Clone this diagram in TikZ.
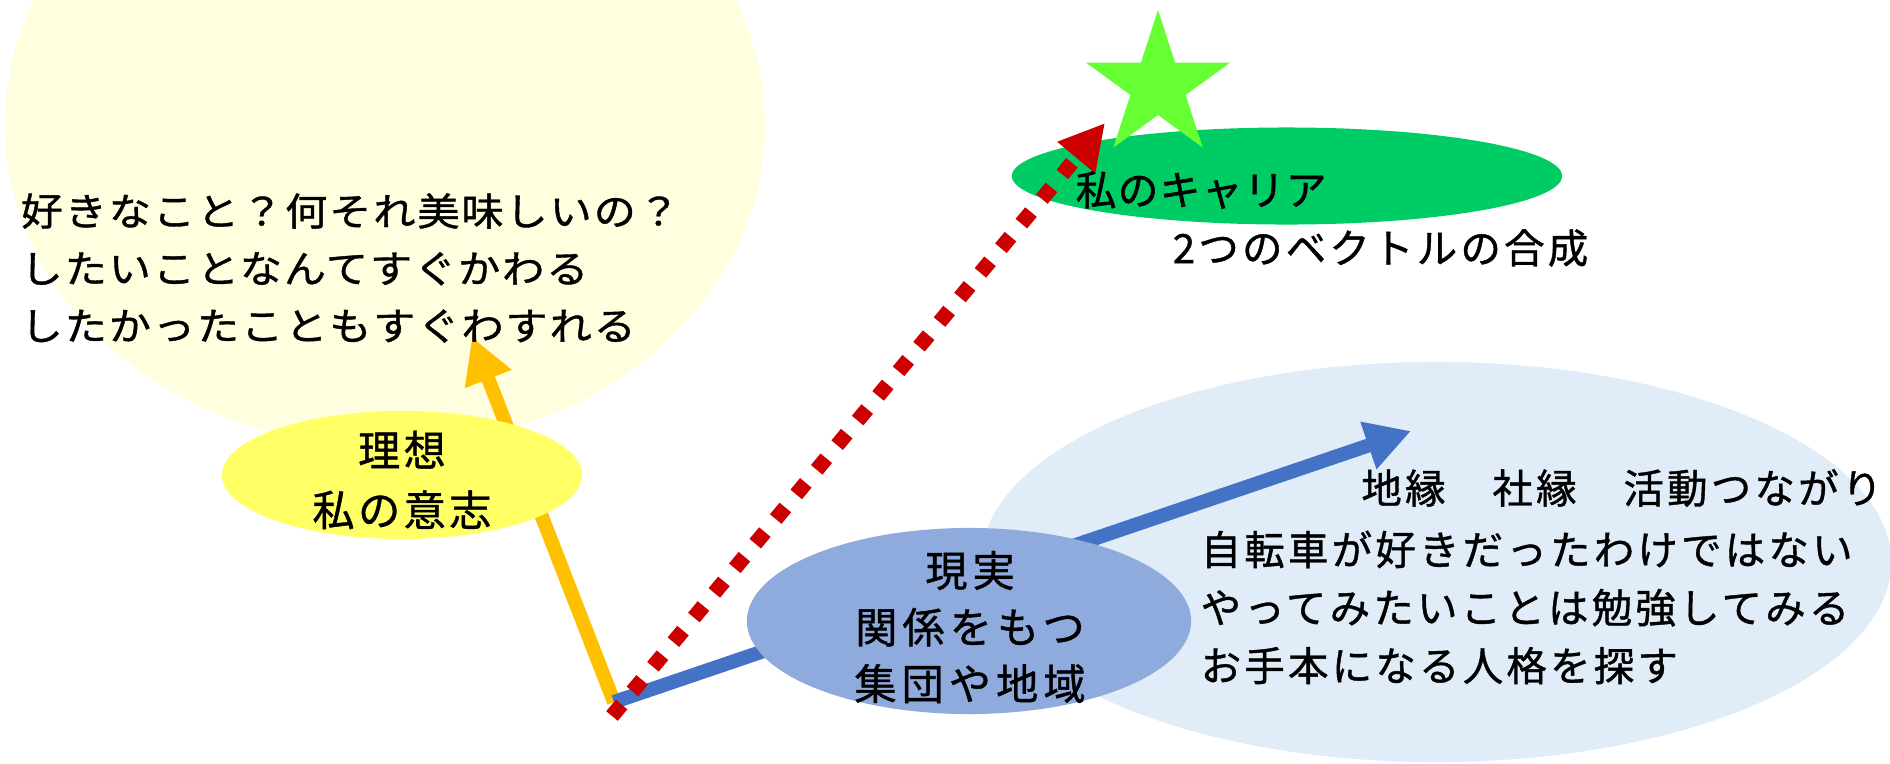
\documentclass[tikz,border=0pt]{standalone}
\usepackage{fontspec}
\newfontfamily\jpfont[FakeBold=1]{Noto Sans CJK JP}
\newfontfamily\wishfont[FakeBold=1,FakeStretch=1.1]{Noto Sans CJK JP}
\usetikzlibrary{arrows.meta,shapes.geometric}
\definecolor{paleyellow}{HTML}{FFFFE0}
\definecolor{idealyellow}{HTML}{FFFF66}
\definecolor{idealorange}{HTML}{FFC000}
\definecolor{palebl}{HTML}{E0ECF7}
\definecolor{realblue}{HTML}{8FAADC}
\definecolor{vecblue}{HTML}{4472C4}
\definecolor{careergreen}{HTML}{00CC66}
\definecolor{stargreen}{HTML}{66FF33}
\definecolor{sumred}{HTML}{CC0000}
\begin{document}
\begin{tikzpicture}[x=0.01cm,y=-0.01cm,line cap=butt,
		blob/.style={ellipse,inner sep=0pt,draw=none},
		vec/.style={line width=0.14cm,-{Triangle[length=0.45cm,width=0.47cm]}},
		wishtxt/.style={inner sep=0pt,text=black,font=\wishfont\fontsize{10.9pt}{16.3pt}\selectfont\addfontfeature{LetterSpace=5}},
		txt/.style={inner sep=0pt,text=black,font=\jpfont\fontsize{11.5pt}{16.5pt}\selectfont\addfontfeature{LetterSpace=8}},
		bigtxt/.style={inner sep=0pt,text=black,font=\jpfont\fontsize{12pt}{16.1pt}\selectfont\addfontfeature{LetterSpace=12}},
		idealtxt/.style={inner sep=0pt,text=black,font=\jpfont\fontsize{12pt}{17pt}\selectfont\addfontfeature{LetterSpace=8}},
		careertxt/.style={inner sep=0pt,text=black,font=\jpfont\fontsize{11.6pt}{16pt}\selectfont\addfontfeature{LetterSpace=3}}]
	\clip (0,0) rectangle (1890,763);
	\node[blob,fill=paleyellow,minimum width=7.6cm,minimum height=6.44cm] (wishbg) at (385,125) {};
	\node[blob,fill=palebl,minimum width=9.1cm,minimum height=4cm] (tiesbg) at (1436,562) {};
	\coordinate (o) at (614,702);
	\coordinate (os) at (612,716);
	\coordinate (itip) at (472,337);
	\coordinate (rtip) at (1411,431);
	\coordinate (ctip) at (1105,123);
	\draw[vec,idealorange] (o) -- (itip);
	\draw[vec,vecblue] (o) -- (rtip);
	\node[blob,fill=idealyellow,minimum width=3.6cm,minimum height=1.28cm] (idealbg) at (402,475) {};
	\node[blob,fill=realblue,minimum width=4.44cm,minimum height=1.86cm] (realbg) at (969,621) {};
	\node[blob,fill=careergreen,minimum width=5.5cm,minimum height=0.97cm] (careerbg) at (1287,176) {};
	\node[star,star points=5,star point ratio=2.62,minimum size=1.52cm,inner sep=0pt,fill=stargreen] (goal) at (1158,86) {};
	\draw[sumred,line width=0.15cm,dash pattern=on 0.15cm off 0.17cm,-{Triangle[length=0.45cm,width=0.46cm]}] (os) -- (ctip);
	\node[wishtxt,anchor=west,align=left] (wish) at (20,268) {好きなこと？何それ美味しいの？\\したいことなんてすぐかわる\\したかったこともすぐわすれる};
	\node[idealtxt,align=center] (ideal) at (402,480) {理想\\私の意志};
	\node[bigtxt,align=center] (real) at (970,627) {現実\\関係をもつ\\集団や地域};
	\node[txt,anchor=east] (ties) at (1883,488) {地縁　社縁　活動つながり};
	\node[txt,anchor=north west,align=left] (bike) at (1200,530) {自転車が好きだったわけではない\\やってみたいことは勉強してみる\\お手本になる人格を探す};
	\node[careertxt,anchor=west] (career) at (1075,190) {私のキャリア};
	\node[txt,anchor=west] (sum) at (1172,248) {2つのベクトルの合成};
\end{tikzpicture}
\end{document}
